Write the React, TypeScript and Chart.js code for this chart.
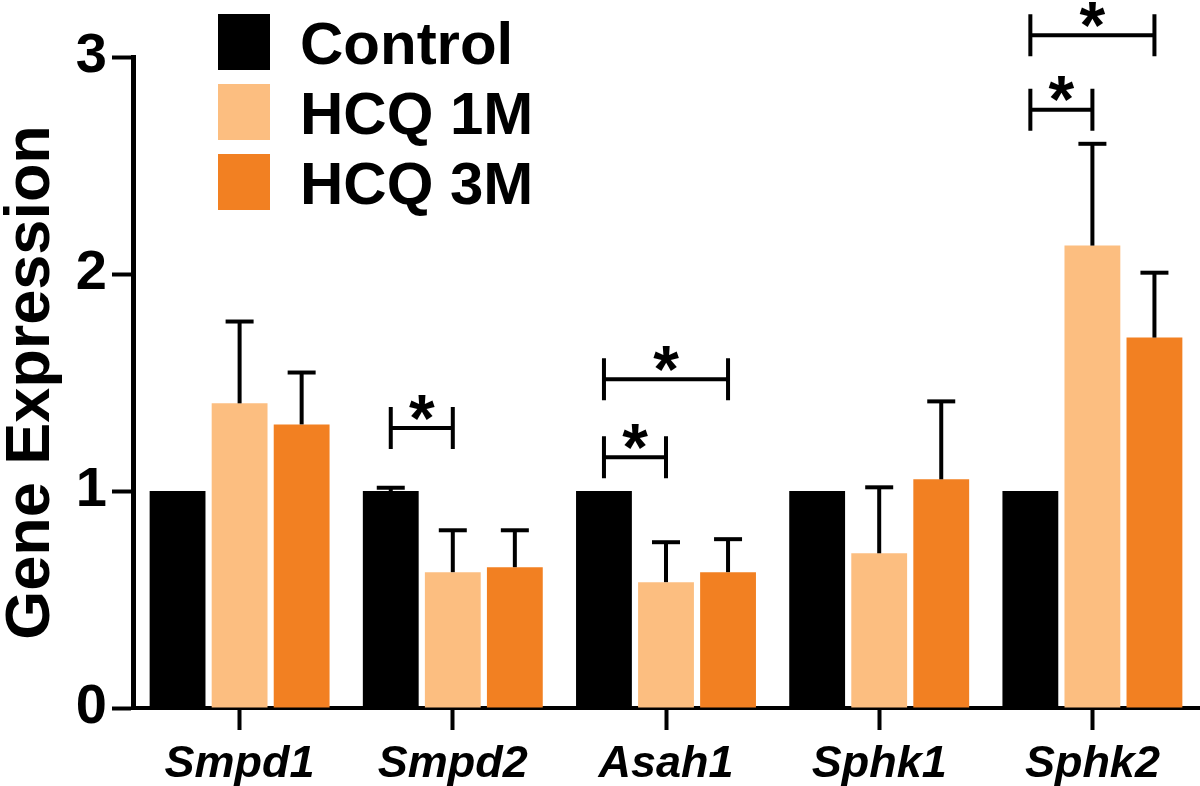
import React, { useEffect, useRef } from 'react';
import { Chart, registerables } from 'chart.js';
Chart.register(...registerables);

const categories = ['Smpd1', 'Smpd2', 'Asah1', 'Sphk1', 'Sphk2'];
const seriesLabels = ['Control', 'HCQ 1M', 'HCQ 3M'];
const controlValues = [1, 1, 1, 1, 1];
const controlErrors = [0, 0.015, 0, 0, 0];
const hcq1mValues = [1.404, 0.626, 0.58, 0.713, 2.131];
const hcq1mErrors = [0.377, 0.193, 0.184, 0.304, 0.469];
const hcq3mValues = [1.307, 0.649, 0.626, 1.054, 1.707];
const hcq3mErrors = [0.239, 0.17, 0.152, 0.359, 0.299];
const yTicks = [0, 1, 2, 3];

// significance brackets: category index, from series, to series, height (data units)
const bracketCategory = [1, 2, 2, 4, 4];
const bracketFrom = [0, 0, 0, 0, 0];
const bracketTo = [1, 1, 2, 1, 2];
const bracketHeight = [1.29, 1.155, 1.515, 2.757, 3.1];
const bracketLabel = ['*', '*', '*', '*', '*'];

const colors = ['#000000', '#FCBE80', '#F28022'];
const FONT = '"Liberation Sans", Arial, Helvetica, sans-serif';

const errorsBySeries = [controlErrors, hcq1mErrors, hcq3mErrors];

const overlayPlugin = {
  id: 'overlay',
  afterDatasetsDraw(chart: any) {
    const ctx = chart.ctx;
    const yScale = chart.scales.y;
    ctx.save();
    ctx.strokeStyle = '#000';
    ctx.lineWidth = 4;
    ctx.lineCap = 'butt';
    chart.data.datasets.forEach((ds: any, d: number) => {
      const meta = chart.getDatasetMeta(d);
      const errs = errorsBySeries[d];
      meta.data.forEach((bar: any, i: number) => {
        const e = errs[i];
        if (!e) return;
        const v = ds.data[i];
        const yTop = yScale.getPixelForValue(v + e);
        ctx.beginPath();
        ctx.moveTo(bar.x, bar.y);
        ctx.lineTo(bar.x, yTop);
        ctx.stroke();
        ctx.beginPath();
        ctx.moveTo(bar.x - 14, yTop);
        ctx.lineTo(bar.x + 14, yTop);
        ctx.stroke();
      });
    });
    ctx.restore();
  },
  afterDraw(chart: any) {
    const ctx = chart.ctx;
    const yScale = chart.scales.y;
    ctx.save();
    ctx.strokeStyle = '#000';
    ctx.fillStyle = '#000';
    ctx.lineWidth = 4;
    bracketCategory.forEach((c, k) => {
      const x1 = chart.getDatasetMeta(bracketFrom[k]).data[c].x;
      const x2 = chart.getDatasetMeta(bracketTo[k]).data[c].x;
      const y = yScale.getPixelForValue(bracketHeight[k]);
      ctx.beginPath();
      ctx.moveTo(x1, y);
      ctx.lineTo(x2, y);
      ctx.moveTo(x1, y - 21);
      ctx.lineTo(x1, y + 21);
      ctx.moveTo(x2, y - 21);
      ctx.lineTo(x2, y + 21);
      ctx.stroke();
      ctx.font = `bold 66px ${FONT}`;
      ctx.textAlign = 'center';
      ctx.textBaseline = 'alphabetic';
      const m = ctx.measureText(bracketLabel[k]);
      const asc = m.actualBoundingBoxAscent;
      const desc = m.actualBoundingBoxDescent;
      const centerY = y - 21;
      const baseline = centerY + (asc - desc) / 2;
      ctx.fillText(bracketLabel[k], (x1 + x2) / 2, baseline);
    });
    const rowsTop = [14, 84, 154];
    chart.data.datasets.forEach((ds: any, d: number) => {
      const top = rowsTop[d];
      ctx.fillStyle = ds.backgroundColor;
      ctx.fillRect(218, top, 52, 56);
      ctx.fillStyle = '#000';
      ctx.font = `bold 60px ${FONT}`;
      ctx.textAlign = 'left';
      ctx.textBaseline = 'alphabetic';
      ctx.fillText(ds.label, 300, top + 28 + 21.5);
    });
    ctx.restore();
  },
};

export default function App() {
  const ref = useRef<HTMLCanvasElement>(null);
  useEffect(() => {
    if (!ref.current) return;
    const values = [controlValues, hcq1mValues, hcq3mValues];
    const chart = new Chart(ref.current, {
      type: 'bar',
      data: {
        labels: categories,
        datasets: seriesLabels.map((label, d) => ({
          label,
          data: values[d],
          backgroundColor: colors[d],
          borderWidth: 0,
          categoryPercentage: 0.873,
          barPercentage: 0.9,
        })),
      },
      options: {
        responsive: false,
        animation: false,
        layout: { padding: { top: 57, right: 1, left: 0, bottom: 0 } },
        plugins: { legend: { display: false }, tooltip: { enabled: false } },
        scales: {
          x: {
            offset: true,
            grid: {
              offset: false,
              drawOnChartArea: false,
              drawTicks: true,
              tickLength: 22,
              tickWidth: 4,
              tickColor: '#000',
            },
            border: { display: true, width: 4, color: '#000' },
            ticks: {
              color: '#000',
              padding: 8,
              font: { family: FONT, size: 45, weight: 'bold', style: 'italic' },
              maxRotation: 0,
            },
            afterFit: (scale: any) => {
              scale.height = 78;
            },
          },
          y: {
            min: 0,
            max: 3,
            afterBuildTicks: (scale: any) => {
              scale.ticks = yTicks.map((v) => ({ value: v }));
            },
            grid: {
              drawOnChartArea: false,
              drawTicks: true,
              tickLength: 21,
              tickWidth: 4,
              tickColor: '#000',
            },
            border: { display: true, width: 5, color: '#000' },
            ticks: {
              color: '#000',
              padding: 5,
              font: { family: FONT, size: 56, weight: 'bold' },
            },
            title: {
              display: true,
              text: 'Gene Expression',
              color: '#000',
              padding: 0,
              font: { family: FONT, size: 63, weight: 'bold', lineHeight: 1 },
            },
            afterFit: (scale: any) => {
              scale.width = 133;
            },
          },
        },
      },
      plugins: [overlayPlugin],
    });
    return () => chart.destroy();
  }, []);
  return (
    <div style={{ position: 'fixed', left: 0, top: 0, width: 1200, height: 786, background: '#fff' }}>
      <canvas ref={ref} width={1200} height={786} />
    </div>
  );
}
